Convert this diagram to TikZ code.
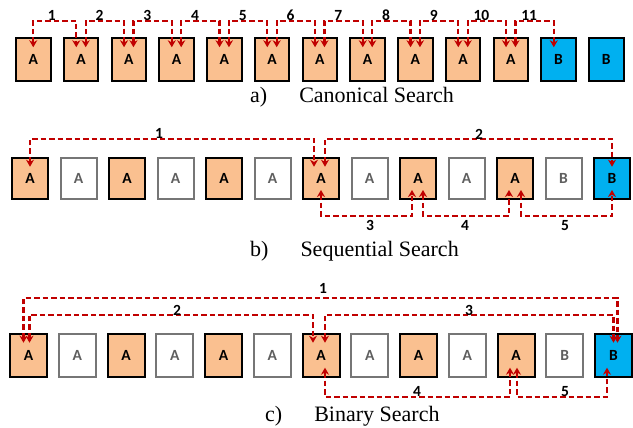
\documentclass[tikz,border=0pt]{standalone}
\usepackage{fontspec}
\setmainfont{Liberation Serif}
\newfontfamily\boxfont{Carlito}[BoldFont={Carlito Bold}]
\usetikzlibrary{arrows.meta}
\definecolor{boxorange}{RGB}{250,192,144}
\definecolor{boxblue}{RGB}{0,176,240}
\definecolor{boxgray}{RGB}{118,118,118}
\definecolor{textgray}{RGB}{95,95,95}
\definecolor{arrred}{RGB}{192,0,0}
\begin{document}
\begin{tikzpicture}[x=1pt,y=-1pt,
  cell/.style={line width=2pt, inner sep=0pt, font=\boxfont\bfseries\fontsize{15.5}{16}\selectfont},
  rowa/.style={cell, minimum width=34.5pt, minimum height=42.5pt},
  rowb/.style={cell, minimum width=36pt, minimum height=41.3pt},
  rowc/.style={cell, minimum width=37pt, minimum height=43pt},
  ocell/.style={draw=black, fill=boxorange},
  wcell/.style={draw=boxgray, fill=white, text=textgray},
  bcell/.style={draw=black, fill=boxblue},
  >={Stealth[length=7pt,width=8pt]},
  arr/.style={draw=arrred, line width=2.2pt, dash pattern=on 5.5pt off 3pt, <->},
  lbl/.style={inner sep=0pt, font=\boxfont\bfseries\fontsize{15.5}{16}\selectfont},
  captxt/.style={inner sep=0pt, font=\fontsize{22}{24}\selectfont}
]
\useasboundingbox (0,0) rectangle (633,428);

% ---------- row a ----------
\foreach \i in {1,...,11}
  \node[rowa,ocell] (a\i) at ({33.25+(\i-1)*47.75},59.5) {A};
\foreach \i in {12,13}
  \node[rowa,bcell] (a\i) at ({33.25+(\i-1)*47.75},59.5) {B};

\draw[arr] ([yshift=-10pt]a1.north) -- ++(0,-26.3) -| ([xshift=-4.7pt,yshift=-10pt]a2.north);
\foreach \i [evaluate=\i as \j using int(\i+1)] in {2,...,11}
  \draw[arr] ([xshift=4.7pt,yshift=-10pt]a\i.north) -- ++(0,-26.3) -| ([xshift=-4.7pt,yshift=-10pt]a\j.north);

\foreach \i in {1,...,11}
  \node[lbl] (la\i) at ({51.7+(\i-1)*47.75},15.3) {\i};

\node[captxt, anchor=base west] (capa) at (250,102.7) {a)\hspace{32pt}Canonical Search};

% ---------- row b ----------
\foreach \i in {1,3,...,11}
  \node[rowb,ocell] (b\i) at ({30+(\i-1)*48.5},178.35) {A};
\foreach \i in {2,4,...,10}
  \node[rowb,wcell] (b\i) at ({30+(\i-1)*48.5},178.35) {A};
\node[rowb,wcell] (b12) at ({30+11*48.5},178.35) {B};
\node[rowb,bcell] (b13) at ({30+12*48.5},178.35) {B};

\draw[arr] ([yshift=-10pt]b1.north) -- ++(0,-27.7) -| ([xshift=-7pt,yshift=-10pt]b7.north);
\draw[arr] ([xshift=4pt,yshift=-10pt]b7.north) -- ++(0,-27.7) -| ([yshift=-10pt]b13.north);
\draw[arr] ([yshift=10pt]b7.south) -- ++(0,26) -| ([xshift=-6pt,yshift=10pt]b9.south);
\draw[arr] ([xshift=5pt,yshift=10pt]b9.south) -- ++(0,26) -| ([xshift=-6pt,yshift=10pt]b11.south);
\draw[arr] ([xshift=6pt,yshift=10pt]b11.south) -- ++(0,26) -| ([yshift=10pt]b13.south);

\node[lbl] (lb1) at (159,133.7) {1};
\node[lbl] (lb2) at (479,134) {2};
\node[lbl] (lb3) at (370,225.5) {3};
\node[lbl] (lb4) at (465,225.5) {4};
\node[lbl] (lb5) at (565,225.5) {5};

\node[captxt, anchor=base west] (capb) at (250,256) {b)\hspace{32pt}Sequential Search};

% ---------- row c ----------
\foreach \i in {1,3,...,11}
  \node[rowc,ocell] (c\i) at ({28.5+(\i-1)*48.75},355.2) {A};
\foreach \i in {2,4,...,10}
  \node[rowc,wcell] (c\i) at ({28.5+(\i-1)*48.75},355.2) {A};
\node[rowc,wcell] (c12) at ({28.5+11*48.75},355.2) {B};
\node[rowc,bcell] (c13) at ({28.5+12*48.75},355.2) {B};

\draw[arr] ([xshift=-5pt,yshift=-10pt]c1.north) -- ++(0,-44.7) -| ([xshift=4pt,yshift=-10pt]c13.north);
\draw[arr] ([xshift=1pt,yshift=-10pt]c1.north) -- ++(0,-28) -| ([xshift=-8pt,yshift=-10pt]c7.north);
\draw[arr] ([xshift=4pt,yshift=-10pt]c7.north) -- ++(0,-28) -| ([yshift=-10pt]c13.north);
\draw[arr] ([xshift=4pt,yshift=10pt]c7.south) -- ++(0,29.3) -| ([xshift=-6pt,yshift=10pt]c11.south);
\draw[arr] ([xshift=1pt,yshift=10pt]c11.south) -- ++(0,29.3) -| ([xshift=-6.5pt,yshift=10pt]c13.south);

\node[lbl] (lc1) at (323,288) {1};
\node[lbl] (lc2) at (177,310) {2};
\node[lbl] (lc3) at (469,310) {3};
\node[lbl] (lc4) at (417,391.7) {4};
\node[lbl] (lc5) at (565,391.7) {5};

\node[captxt, anchor=base west] (capc) at (265,421.7) {c)\hspace{32pt}Binary Search};
\end{tikzpicture}
\end{document}
